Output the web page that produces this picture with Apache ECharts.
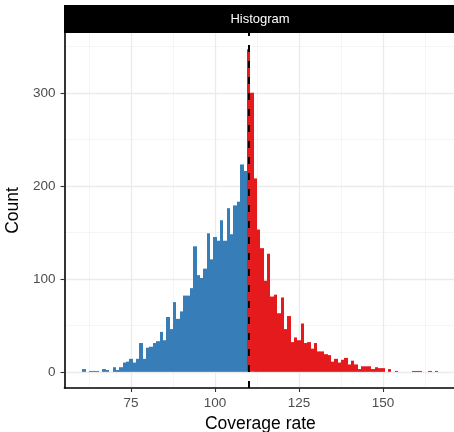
<!DOCTYPE html>
<html>
<head>
<meta charset="utf-8">
<script src="https://cdn.jsdelivr.net/npm/echarts@6/dist/echarts.min.js"></script>
<style>html,body{margin:0;padding:0;background:#fff}#c{width:454px;height:432px}</style>
</head>
<body>
<div id="c"></div>
<script>
// ---- data ----
const blueStart = 61; // first bin centre of the blue group
const blueCounts = [3,0,1,1,1,0,3,2,0,5,
  2,5,10,11,14,10,14,31,14,26,
  27,31,33,43,34,59,46,75,57,65,
  82,82,90,135,104,101,111,149,121,145,
  141,163,141,176,148,179,183,223,216];
const redStart = 110; // first bin centre of the red group
const redCounts = [347,300,208,153,133,98,127,81,83,63,
  80,46,60,32,37,34,52,31,32,25,
  31,22,22,19,18,11,14,10,13,15,
  8,12,8,3,6,6,6,3,5,4,
  4,0,3,0,1,0,0,0,0,1,
  1,1,0,0,1,0,1];
const binWidth = 1;
const cutoff = 110;
const xTicks = [75, 100, 125, 150];
const xMinor = [62.5, 87.5, 112.5, 137.5, 162.5];
const yTicks = [0, 100, 200, 300];
const yMinor = [50, 150, 250, 350];
const stripTitle = 'Histogram';
const xTitle = 'Coverage rate';
const yTitle = 'Count';

function toData(start, counts) {
  return counts.map((c, i) => [start + i * binWidth, c]).filter(d => d[1] > 0);
}
function barRender(params, api) {
  const v = api.value(0), c = api.value(1);
  const p0 = api.coord([v - binWidth / 2, c]);
  const p1 = api.coord([v + binWidth / 2, 0]);
  const x0 = Math.round(p0[0]), x1 = Math.round(p1[0]);
  return {
    type: 'rect',
    shape: { x: x0, y: p0[1], width: x1 - x0, height: p1[1] - p0[1] },
    style: { fill: api.visual('color') }
  };
}

const allMax = Math.max(...blueCounts, ...redCounts);
const xLo = blueStart - binWidth / 2, xHi = redStart + (redCounts.length - 1) * binWidth + binWidth / 2;
const xPad = (xHi - xLo) * 0.05;
const yPad = allMax * 0.05;

const chart = echarts.init(document.getElementById('c'), null, { renderer: 'canvas' });
const font = 'Liberation Sans, Arial, Helvetica, sans-serif';
chart.setOption({
  animation: false,
  backgroundColor: '#ffffff',
  grid: { left: 64.5, top: 33, width: 391.7, height: 355, containLabel: false, outerBoundsMode: 'none' },
  xAxis: {
    type: 'value', min: xLo - xPad, max: xHi + xPad,
    name: xTitle, nameLocation: 'middle', nameGap: 25,
    nameTextStyle: { color: '#000', fontSize: 17.5, fontFamily: font },
    axisLine: { show: true, onZero: false, lineStyle: { color: '#000', width: 1.6 } },
    axisTick: { show: true, length: 4, customValues: xTicks, lineStyle: { color: '#333', width: 1.1 } },
    axisLabel: { customValues: xTicks, color: '#4d4d4d', fontSize: 13.5, fontFamily: font, margin: 8 },
    splitLine: { show: false }
  },
  yAxis: {
    type: 'value', min: -yPad, max: allMax + yPad,
    name: yTitle, nameLocation: 'middle', nameGap: 35, nameRotate: 90,
    nameTextStyle: { color: '#000', fontSize: 17.5, fontFamily: font },
    axisLine: { show: true, lineStyle: { color: '#000', width: 1.6 } },
    axisTick: { show: true, length: 4, customValues: yTicks, lineStyle: { color: '#333', width: 1.1 } },
    axisLabel: { customValues: yTicks, color: '#4d4d4d', fontSize: 13.5, fontFamily: font, margin: 9 },
    splitLine: { show: false }
  },
  graphic: [
    { type: 'rect', left: 64, top: 5, shape: { width: 392, height: 28 }, style: { fill: '#000' }, z: 10 },
    { type: 'text', x: 260, y: 19, style: { text: stripTitle, fill: '#ffffff', font: '13px ' + font, textAlign: 'center', textVerticalAlign: 'middle' }, z: 11 }
  ],
  series: [
    {
      type: 'line', data: [], z: 0, zlevel: 0, silent: true,
      markLine: {
        z: 0, silent: true, symbol: ['none', 'none'], label: { show: false }, animation: false,
        emphasis: { disabled: true },
        data: [
          ...xMinor.map(v => ({ xAxis: v, lineStyle: { color: '#f2f2f2', width: 0.8, type: 'solid' } })),
          ...yMinor.map(v => ({ yAxis: v, lineStyle: { color: '#f2f2f2', width: 0.8, type: 'solid' } })),
          ...xTicks.map(v => ({ xAxis: v, lineStyle: { color: '#ebebeb', width: 1.3, type: 'solid' } })),
          ...yTicks.map(v => ({ yAxis: v, lineStyle: { color: '#ebebeb', width: 1.3, type: 'solid' } }))
        ]
      }
    },
    { type: 'custom', z: 3, renderItem: barRender, data: toData(blueStart, blueCounts), itemStyle: { color: '#377EB8' }, encode: { x: 0, y: 1 } },
    { type: 'custom', z: 3, renderItem: barRender, data: toData(redStart, redCounts), itemStyle: { color: '#E41A1C' }, encode: { x: 0, y: 1 } },
    {
      type: 'line', data: [], z: 6, silent: true,
      markLine: {
        z: 6, silent: true, symbol: ['none', 'none'], label: { show: false }, animation: false,
        emphasis: { disabled: true },
        data: [{ xAxis: cutoff, lineStyle: { color: '#000', width: 2, type: [7, 9] } }]
      }
    }
  ]
});
</script>
</body>
</html>
